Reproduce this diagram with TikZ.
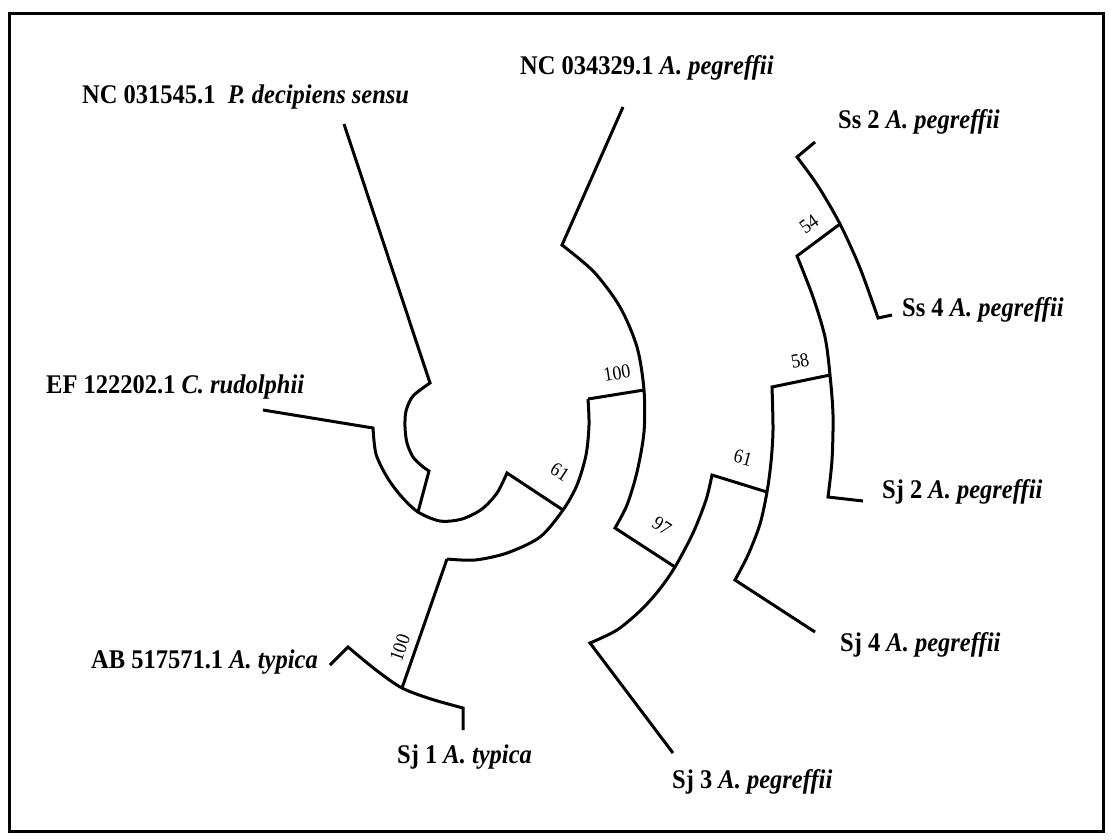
\documentclass[tikz,border=0pt]{standalone}
\usepackage{graphicx}
\usepackage{fontspec}
\setmainfont{Liberation Serif}
\newcommand\tallbox[1]{\scalebox{1}[1.1]{#1}}
\begin{document}
\begin{tikzpicture}[x=1pt,y=-1pt,
  br/.style={line width=3pt, line join=miter},
  lab/.style={anchor=west, inner sep=0pt, font=\fontsize{24.5}{28}\selectfont\bfseries},
  bs/.style={inner sep=0pt, font=\fontsize{18}{20}\selectfont}]
\useasboundingbox (0,0) rectangle (1113,839);
\draw[line width=3pt] (9,13) rectangle (1103,831);
% coordinates
\coordinate (pdL) at (344,124); \coordinate (pdE) at (430,383);
\coordinate (saB) at (429,471);
\coordinate (rA) at (418,512);
\coordinate (efL) at (263,410); \coordinate (efE) at (373,428);
\coordinate (r61) at (507,473);
\coordinate (n61) at (563,510);
\coordinate (n61t) at (588,399);
\coordinate (n61b) at (447,559);
\coordinate (n100) at (644,390);
\coordinate (ncE) at (562,245); \coordinate (ncL) at (623,107);
\coordinate (b97s) at (615,528);
\coordinate (n97) at (675,567);
\coordinate (a97t) at (712,475); \coordinate (a97b) at (590,643);
\coordinate (sj3L) at (673,753);
\coordinate (n61r) at (767,492);
\coordinate (a61t) at (772,387); \coordinate (a61b) at (735,580);
\coordinate (sj4L) at (815,632);
\coordinate (n58) at (830,375);
\coordinate (a58t) at (797,256); \coordinate (a58b) at (828,497);
\coordinate (sj2L) at (863,501);
\coordinate (n54) at (840,224);
\coordinate (a54t) at (797,157); \coordinate (a54b) at (878,318);
\coordinate (ss2L) at (815,142); \coordinate (ss4L) at (892,315);
\coordinate (ntyp) at (402,688);
\coordinate (atL) at (348,647); \coordinate (atR) at (463,708);
\coordinate (abL) at (330,665); \coordinate (sj1L) at (463,730);
% branches
\draw[br] (pdL) -- plot[smooth] coordinates {(pdE) (413,396) (406,411) (405,427) (407,443) (413,457) (422,466) (saB)} -- (rA);
\draw[br] (efL) -- plot[smooth] coordinates {(efE) (376,454) (387,477) (401,496) (rA) (440,521) (462,519) (482,509) (497,493) (r61)} -- (n61);
\draw[br] plot[smooth] coordinates {(n61t) (589,425) (586,455) (577,485) (n61) (540,537) (507,553) (475,560) (n61b)};
\draw[br] (n61t) -- (n100);
\draw[br] (ncL) -- plot[smooth] coordinates {(ncE) (594,272) (620,307) (637,347) (n100) (644,432) (637,472) (627,505) (b97s)} -- (n97);
\draw[br] (n61r) -- plot[smooth] coordinates {(a97t) (706,500) (693,533) (n97) (659,590) (641,610) (617,630) (a97b)} -- (sj3L);
\draw[br] (n58) -- plot[smooth] coordinates {(a61t) (773,430) (771,462) (n61r) (760,524) (748,555) (a61b)} -- (sj4L);
\draw[br] (n54) -- plot[smooth] coordinates {(a58t) (813,297) (825,337) (n58) (833,415) (832,460) (a58b)} -- (sj2L);
\draw[br] (ss2L) -- plot[smooth] coordinates {(a54t) (818,186) (n54) (860,268) (a54b)} -- (ss4L);
\draw[br] (abL) -- plot[smooth] coordinates {(atL) (376,670) (ntyp) (431,699) (atR)} -- (sj1L);
\draw[br] (n61b) -- (ntyp);
% leaf labels
\node[lab] (tpd) at (82,97) {\tallbox{NC 031545.1\ \ \textit{P. decipiens sensu}}};
\node[lab] (tnc) at (520,68) {\tallbox{NC 034329.1 \textit{A. pegreffii}}};
\node[lab] (tss2) at (838,122) {\tallbox{Ss 2 \textit{A. pegreffii}}};
\node[lab] (tss4) at (902,310) {\tallbox{Ss 4 \textit{A. pegreffii}}};
\node[lab] (tef) at (46,387) {\tallbox{EF 122202.1 \textit{C. rudolphii}}};
\node[lab] (tsj2) at (882,492) {\tallbox{Sj 2 \textit{A. pegreffii}}};
\node[lab] (tsj4) at (840,645) {\tallbox{Sj 4 \textit{A. pegreffii}}};
\node[lab] (tsj3) at (672,782) {\tallbox{Sj 3 \textit{A. pegreffii}}};
\node[lab] (tsj1) at (397,757) {\tallbox{Sj 1 \textit{A. typica}}};
\node[lab, anchor=east] (tab) at (318,662) {\tallbox{AB 517571.1 \textit{A. typica}}};
% bootstrap values
\node[bs, rotate=9] (b100a) at (617,373) {\tallbox{100}};
\node[bs, rotate=-33] (b61a) at (560,472) {\tallbox{61}};
\node[bs, rotate=71] (b100b) at (400,648) {\tallbox{100}};
\node[bs, rotate=-33] (b97) at (662,526) {\tallbox{97}};
\node[bs, rotate=-15] (b61b) at (743,458) {\tallbox{61}};
\node[bs, rotate=10] (b58) at (800,361) {\tallbox{58}};
\node[bs, rotate=35] (b54) at (809,224) {\tallbox{54}};
\end{tikzpicture}
\end{document}
